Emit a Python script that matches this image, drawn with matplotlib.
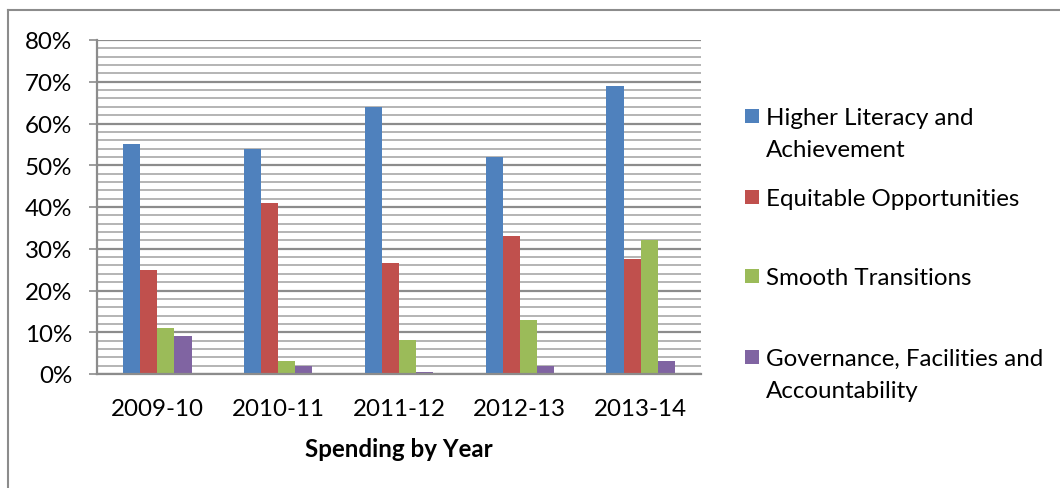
import matplotlib
matplotlib.use("Agg")
import matplotlib.pyplot as plt
from matplotlib.patches import Rectangle
from matplotlib.lines import Line2D
import numpy as np

plt.rcParams['font.family'] = ['Lato', 'DejaVu Sans']

years = ["2009-10", "2010-11", "2011-12", "2012-13", "2013-14"]
series_names = ["Higher Literacy and\nAchievement", "Equitable Opportunities",
                "Smooth Transitions", "Governance, Facilities and\nAccountability"]
higher_literacy = [55, 54, 64, 52, 68.9]
equitable = [25, 41, 26.7, 33, 27.5]
smooth = [11, 3.1, 8.2, 13, 32]
governance = [9, 1.9, 0.5, 1.9, 3.1]
colors = ["#4F81BD", "#C0504D", "#9BBB59", "#8064A2"]
yticks = [0, 10, 20, 30, 40, 50, 60, 70, 80]
ytick_labels = ["0%", "10%", "20%", "30%", "40%", "50%", "60%", "70%", "80%"]
xlabel = "Spending by Year"

FS = 17.4
W, H = 1060, 489
fig = plt.figure(figsize=(W / 100, H / 100), dpi=100)
L, R, T, B = 97, 701, 41, 375
ax = fig.add_axes([L / W, 1 - B / H, (R - L) / W, (B - T) / H])

series = [higher_literacy, equitable, smooth, governance]
x = np.arange(len(years))
bw = 0.1415
for i, (vals, c) in enumerate(zip(series, colors)):
    ax.bar(x + (i - 1.5) * bw, vals, width=bw, color=c, edgecolor='none', zorder=3)

ax.set_xlim(-0.5, len(years) - 0.5)
ax.set_ylim(0, 80)

# gridlines
for v in np.arange(0, 81, 2):
    if v % 10 == 0:
        ax.axhline(v, color='#8c8c8c', lw=1.6, zorder=1)
    else:
        ax.axhline(v, color='#b4b4b4', lw=1.4, zorder=1)

ax.set_yticks(yticks)
ax.set_yticklabels(ytick_labels, fontsize=FS)
ax.set_xticks(x)
ax.set_xticklabels(years, fontsize=FS)
ax.tick_params(axis='y', direction='out', length=6, width=1.2, color='#8c8c8c', pad=12)
ax.tick_params(axis='x', length=0, pad=17)
for s in ['top', 'right']:
    ax.spines[s].set_visible(False)
for s in ['left', 'bottom']:
    ax.spines[s].set_color('#8c8c8c')
    ax.spines[s].set_linewidth(1.6)
    ax.spines[s].set_zorder(4)
ax.set_xlabel(xlabel, fontsize=FS, fontweight='bold', labelpad=13)

# legend (manual, Excel-style)
leg_y = [117, 198, 277, 358]
for (name, c, yy) in zip(series_names, colors, leg_y):
    fig.patches.append(Rectangle((745 / W, 1 - (yy + 7) / H), 14 / W, 14 / H,
                                 transform=fig.transFigure, facecolor=c, edgecolor='none'))
    fig.text(766 / W, 1 - (yy - 9) / H, name, fontsize=FS, va='top', ha='left',
             linespacing=1.62)

# outer border
fig.add_artist(Line2D([8 / W, 8 / W], [0, 1 - 11 / H], transform=fig.transFigure,
                      color='#8c8c8c', lw=1.5))
fig.add_artist(Line2D([8 / W, 1], [1 - 11 / H, 1 - 11 / H], transform=fig.transFigure,
                      color='#8c8c8c', lw=1.5))

fig.savefig("out.png", dpi=100)
